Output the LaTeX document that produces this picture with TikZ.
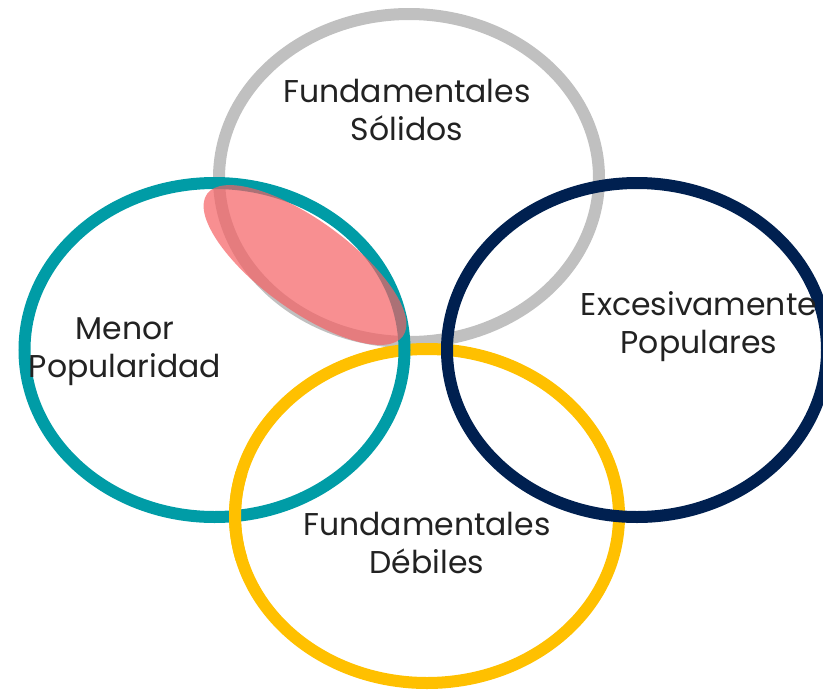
\documentclass[tikz,border=0pt]{standalone}
\usepackage{fontspec}
\setmainfont{Poppins}
\definecolor{solidgray}{HTML}{C0C0C0}
\definecolor{menorteal}{HTML}{009CA6}
\definecolor{popnavy}{HTML}{002050}
\definecolor{debilyellow}{HTML}{FFC000}
\definecolor{zonepink}{HTML}{F56063}
\definecolor{labeltext}{HTML}{222222}
\tikzset{
    ring/.style={line width=12pt},
    setlabel/.style={align=center, text=labeltext, inner sep=0pt,
        font=\fontsize{31.5}{38}\selectfont}
}

\begin{document}
\begin{tikzpicture}[x=1pt,y=-1pt]
    \useasboundingbox (0,0) rectangle (823,689);
    \coordinate (S) at (409,178);
    \coordinate (M) at (214.5,350);
    \coordinate (E) at (637,350);
    \coordinate (D) at (427,516);
    \coordinate (P) at (305,265);
    \draw[ring, solidgray] (S) ellipse [x radius=190, y radius=164];
    \draw[ring, debilyellow] (D) ellipse [x radius=192, y radius=167];
    \draw[ring, menorteal] (M) ellipse [x radius=190, y radius=167];
    \draw[ring, popnavy] (E) ellipse [x radius=190, y radius=167];
    \fill[zonepink, opacity=0.7, rotate around={-36:(P)}] (P) ellipse [x radius=121, y radius=45];
    % yellow passes over teal at the lower left
    \draw[ring, debilyellow] (D) ++(165:192 and 167) arc [start angle=165, end angle=195, x radius=192, y radius=167];
    \node[setlabel] (s) at (407,110) {Fundamentales\\Sólidos};
    \node[setlabel] (m) at (125,352) {Menor\\Popularidad};
    \node[setlabel] (e) at (699,327) {Excesivamente\\Populares};
    \node[setlabel] (d) at (427,542.5) {Fundamentales\\Débiles};
\end{tikzpicture}
\end{document}
